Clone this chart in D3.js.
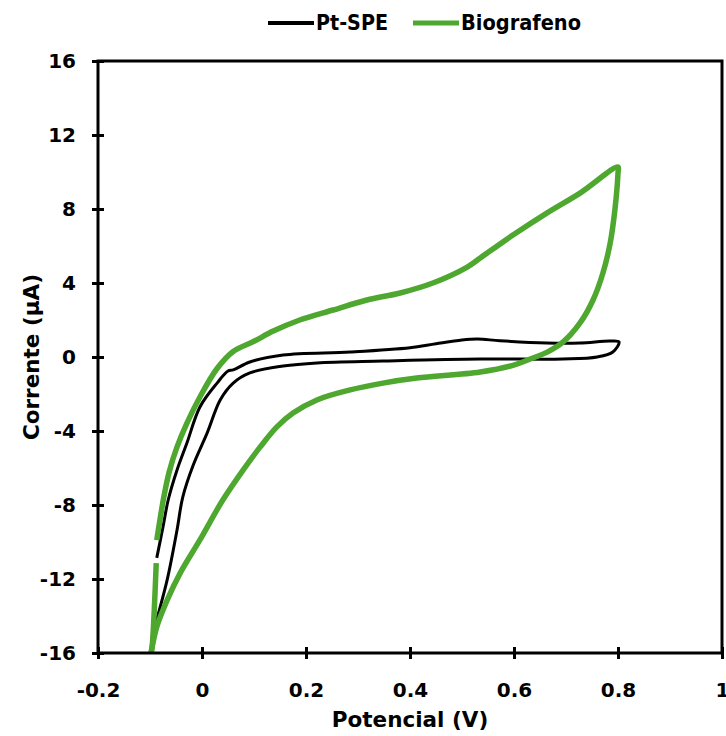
<!DOCTYPE html>
<html>
<head>
<meta charset="utf-8">
<script src="https://cdn.jsdelivr.net/npm/d3@7"></script>
<style>
  body { margin: 0; background: #fff; }
  text { font-family: "DejaVu Sans", "Liberation Sans", Arial, sans-serif; font-weight: bold; fill: #000; }
</style>
</head>
<body>
<div id="chart"></div>
<script>
// Pt-SPE voltammogram (potential V, current µA)
var ptPotential = [-0.087, -0.075, -0.065, -0.048, -0.029, -0.004, 0.029, 0.050, 0.060, 0.092, 0.156, 0.285, 0.400, 0.450, 0.500, 0.530, 0.573, 0.663, 0.727, 0.785, 0.802,
                   0.790, 0.760, 0.694, 0.535, 0.348, 0.221, 0.156, 0.092, 0.060, 0.035, 0.010, -0.017, -0.037, -0.048, -0.067, -0.087, -0.096];
var ptCurrent = [-10.86, -9.19, -7.73, -6.11, -4.65, -2.70, -1.41, -0.76, -0.70, -0.27, 0.11, 0.27, 0.50, 0.72, 0.92, 0.97, 0.88, 0.76, 0.76, 0.86, 0.81,
                 0.27, 0.0, -0.11, -0.11, -0.22, -0.32, -0.49, -0.86, -1.41, -2.32, -4.10, -5.85, -7.57, -9.35, -12.05, -14.2, -15.14];

// Biografeno voltammogram; the first two points are a short separate piece of trace
var bgPotential = [-0.088, -0.096, -0.098, -0.087, -0.067, -0.042, -0.004, 0.040, 0.079, 0.112, 0.144, 0.175, 0.221, 0.285, 0.348, 0.413, 0.535, 0.598, 0.630, 0.663, 0.694, 0.727, 0.752, 0.771, 0.785, 0.794, 0.800, 0.800,
                   0.727, 0.663, 0.598, 0.535, 0.510, 0.444, 0.381, 0.317, 0.252, 0.188, 0.137, 0.100, 0.060, 0.029, -0.004, -0.029, -0.048, -0.063, -0.073, -0.082, -0.087];
var bgCurrent = [-11.14, -15.68, -16.0, -14.59, -13.14, -11.68, -9.89, -7.73, -6.11, -4.86, -3.78, -3.03, -2.32, -1.78, -1.41, -1.14, -0.81, -0.45, -0.12, 0.25, 0.80, 1.84, 3.08, 4.54, 6.16, 7.95, 9.95, 10.27,
                 8.86, 7.78, 6.59, 5.35, 4.86, 4.0, 3.46, 3.08, 2.54, 2.0, 1.40, 0.85, 0.30, -0.62, -2.16, -3.57, -4.86, -6.2, -7.5, -9.0, -9.9];

var xTicks = [-0.2, 0, 0.2, 0.4, 0.6, 0.8, 1];
var yTicks = [-16, -12, -8, -4, 0, 4, 8, 12, 16];
var seriesNames = ["Pt-SPE", "Biografeno"];
var seriesColors = ["#000000", "#4ea72e"];

var width = 726, height = 736;
var margin = { top: 61, right: 4, bottom: 83, left: 98 };
var w = width - margin.left - margin.right;
var h = height - margin.top - margin.bottom;

var svg = d3.select("#chart").append("svg")
    .attr("width", width)
    .attr("height", height);

var g = svg.append("g")
    .attr("transform", "translate(" + margin.left + "," + margin.top + ")");

var x = d3.scaleLinear().domain([-0.2, 1]).range([0, w]);
var y = d3.scaleLinear().domain([-16, 16]).range([h, 0]);

// curves
var line = d3.line()
    .x(d => x(d[0]))
    .y(d => y(d[1]))
    .curve(d3.curveCatmullRom.alpha(0.5));

var ptData = ptPotential.map((v, i) => [v, ptCurrent[i]]);
var bgData = bgPotential.map((v, i) => [v, bgCurrent[i]]);
var bgStart = bgData.slice(0, 3);
var bgMain = bgData.slice(2);

g.append("clipPath").attr("id", "clip")
    .append("rect").attr("width", w).attr("height", h);

var plot = g.append("g").attr("clip-path", "url(#clip)");

plot.append("path")
    .attr("d", line(ptData))
    .attr("fill", "none")
    .attr("stroke", seriesColors[0])
    .attr("stroke-width", 3);

[bgStart, bgMain].forEach(function(seg) {
    plot.append("path")
        .attr("d", line(seg))
        .attr("fill", "none")
        .attr("stroke", seriesColors[1])
        .attr("stroke-width", 5.5)
        .attr("stroke-linejoin", "round");
});

// frame
g.append("rect")
    .attr("width", w)
    .attr("height", h)
    .attr("fill", "none")
    .attr("stroke", "#000")
    .attr("stroke-width", 3);

// axes
var fmt = d => String(d);
var xAxis = d3.axisBottom(x).tickValues(xTicks).tickFormat(fmt).tickSize(0).tickPadding(30);
var yAxis = d3.axisLeft(y).tickValues(yTicks).tickFormat(fmt).tickSize(0).tickPadding(22);

var gx = g.append("g").attr("transform", "translate(0," + h + ")").call(xAxis);
var gy = g.append("g").call(yAxis);
[gx, gy].forEach(function(a) {
    a.select(".domain").remove();
    a.selectAll("text")
        .style("font-size", "20px")
        .style("font-family", "DejaVu Sans, Liberation Sans, sans-serif")
        .style("font-weight", "bold");
});

gx.selectAll(".tick").append("line")
    .attr("y1", -6).attr("y2", 6)
    .attr("stroke", "#000").attr("stroke-width", 3);
gy.selectAll(".tick").append("line")
    .attr("x1", -6).attr("x2", 6)
    .attr("stroke", "#000").attr("stroke-width", 3);

// axis titles
svg.append("text")
    .attr("x", margin.left + x(0.4))
    .attr("y", 727)
    .attr("text-anchor", "middle")
    .style("font-size", "21.5px")
    .text("Potencial (V)");

svg.append("text")
    .attr("transform", "translate(39," + (margin.top + y(0)) + ") rotate(-90)")
    .attr("text-anchor", "middle")
    .style("font-size", "21.5px")
    .text("Corrente (µA)");

// legend
var legendX = [268, 413];
var legendText = [72, 120];
var legend = svg.selectAll(".legend")
    .data(seriesNames)
    .enter().append("g")
    .attr("class", "legend")
    .attr("transform", (d, i) => "translate(" + legendX[i] + ",23)");

legend.append("line")
    .attr("x1", 0).attr("x2", 46)
    .attr("stroke", (d, i) => seriesColors[i])
    .attr("stroke-width", (d, i) => i ? 5 : 4);

legend.append("text")
    .attr("x", 48)
    .attr("dy", "0.35em")
    .attr("textLength", (d, i) => legendText[i])
    .attr("lengthAdjust", "spacingAndGlyphs")
    .style("font-family", "Liberation Sans Narrow, DejaVu Sans Condensed, Liberation Sans, sans-serif")
    .style("font-size", "21px")
    .text(d => d);
</script>
</body>
</html>
